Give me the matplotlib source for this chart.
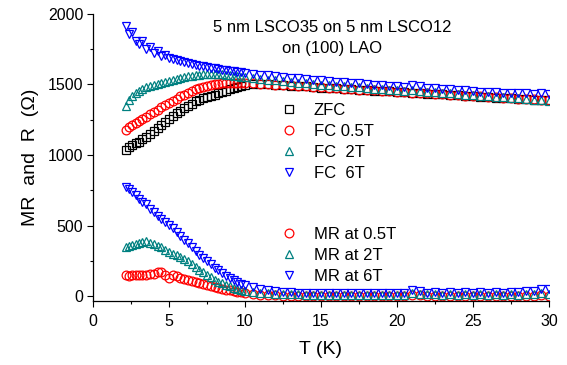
import numpy as np
import matplotlib
matplotlib.use("Agg")
import matplotlib.pyplot as plt
from matplotlib.ticker import MultipleLocator

plt.rcParams.update({
    "font.family": ["Liberation Sans", "DejaVu Sans"],
    "font.size": 11.5,
    "axes.linewidth": 0.9,
    "xtick.direction": "out",
    "ytick.direction": "out",
    "xtick.major.size": 4,
    "ytick.major.size": 4,
    "xtick.minor.size": 2.3,
    "ytick.minor.size": 2.3,
    "xtick.major.width": 0.8,
    "ytick.major.width": 0.8,
    "xtick.minor.width": 0.8,
    "ytick.minor.width": 0.8,
})

# temperature grid (K)
T = [2.2, 2.4, 2.6, 2.8, 3.0, 3.25, 3.5, 3.75, 4.0, 4.25, 4.5, 4.75, 5.0,
     5.25, 5.5, 5.75, 6.0, 6.25, 6.5, 6.75, 7.0, 7.25, 7.5, 7.75, 8.0,
     8.25, 8.5, 8.75, 9.0, 9.25, 9.5, 9.75, 10.0,
     10.5, 11.0, 11.5, 12.0, 12.5, 13.0, 13.5, 14.0, 14.5, 15.0, 15.5,
     16.0, 16.5, 17.0, 17.5, 18.0, 18.5, 19.0, 19.5, 20.0, 20.5, 21.0,
     21.5, 22.0, 22.5, 23.0, 23.5, 24.0, 24.5, 25.0, 25.5, 26.0, 26.5,
     27.0, 27.5, 28.0, 28.5, 29.0, 29.5, 30.0]

# R(T), ohm
R_zfc = [1035, 1055, 1070, 1082, 1095, 1110, 1128, 1148, 1168, 1188, 1210,
         1232, 1255, 1275, 1295, 1315, 1335, 1350, 1365, 1380, 1393, 1403,
         1412, 1420, 1428, 1436, 1445, 1455, 1465, 1475, 1483, 1490, 1495,
         1500, 1501, 1500, 1498, 1495, 1492, 1489, 1486, 1483, 1478, 1475,
         1472, 1469, 1466, 1463, 1460, 1457, 1454, 1451, 1447, 1444, 1441,
         1438, 1435, 1432, 1429, 1426, 1422, 1419, 1416, 1413, 1410, 1407,
         1404, 1401, 1398, 1396, 1393, 1391, 1388]
R_fc05 = [1180, 1198, 1212, 1225, 1238, 1255, 1272, 1290, 1305, 1322, 1338,
          1355, 1370, 1385, 1400, 1415, 1428, 1440, 1452, 1465, 1475, 1484,
          1491, 1497, 1502, 1506, 1509, 1511, 1512, 1512, 1512, 1511, 1510,
          1508, 1505, 1502, 1499, 1496, 1493, 1490, 1486, 1483, 1480, 1477,
          1473, 1470, 1467, 1464, 1461, 1458, 1455, 1452, 1448, 1445, 1442,
          1439, 1436, 1433, 1430, 1427, 1424, 1421, 1418, 1415, 1412, 1409,
          1406, 1403, 1400, 1398, 1395, 1393, 1390]
R_fc2 = [1345, 1390, 1420, 1440, 1455, 1468, 1480, 1490, 1498, 1505, 1512,
         1520, 1527, 1534, 1540, 1546, 1552, 1557, 1562, 1566, 1569, 1572,
         1574, 1575, 1575, 1574, 1572, 1569, 1566, 1562, 1558, 1554, 1550,
         1544, 1538, 1533, 1528, 1523, 1518, 1513, 1508, 1503, 1499, 1495,
         1491, 1487, 1483, 1479, 1475, 1471, 1467, 1463, 1459, 1456, 1462,
         1455, 1447, 1443, 1440, 1436, 1432, 1428, 1424, 1420, 1417, 1413,
         1409, 1405, 1401, 1397, 1393, 1389, 1385]
R_fc6 = [1915, 1860, 1870, 1810, 1790, 1805, 1750, 1765, 1725, 1740, 1705,
         1712, 1690, 1680, 1670, 1664, 1657, 1651, 1645, 1640, 1634, 1629,
         1624, 1619, 1614, 1610, 1605, 1601, 1597, 1593, 1589, 1585, 1582,
         1576, 1570, 1565, 1559, 1554, 1549, 1544, 1539, 1534, 1529, 1525,
         1520, 1516, 1511, 1507, 1503, 1499, 1495, 1491, 1487, 1484, 1495,
         1490, 1478, 1474, 1470, 1466, 1462, 1458, 1452, 1450, 1446, 1448,
         1442, 1440, 1437, 1440, 1434, 1438, 1432]

# magnetoresistance, ohm
MR_05 = [150, 145, 148, 150, 152, 152, 153, 155, 158, 168, 170, 150, 130,
         148, 145, 130, 122, 115, 110, 103, 95, 88, 80, 72, 65, 58, 52, 47,
         42, 37, 32, 27, 22,
         16, 11, 8, 5, 4, 3, 2, 2, 2, 1, 1, 1, 1, 1, 1, 1, 1, 1, 1, 1, 2, 8,
         5, 2, 4, 1, 3, 1, 3, 1, 3, 1, 3, 2, 3, 2, 4, 3, 5, 4]
MR_2 = [345, 352, 360, 372, 380, 385, 388, 380, 368, 355, 345, 330, 315,
        302, 290, 276, 262, 247, 230, 208, 187, 168, 150, 133, 118, 104, 92,
        80, 70, 61, 53, 46, 40,
        32, 26, 21, 18, 15, 13, 12, 11, 10, 10, 9, 9, 8, 8, 8, 8, 8, 8, 8, 9,
        10, 25, 18, 12, 15, 10, 14, 10, 13, 9, 12, 10, 13, 10, 12, 11, 14, 16,
        20, 18]
MR_6 = [772, 760, 735, 715, 690, 665, 655, 615, 595, 570, 548, 528, 505,
        480, 455, 428, 400, 375, 350, 322, 295, 270, 248, 225, 203, 183, 165,
        146, 130, 115, 100, 88, 76,
        62, 50, 42, 35, 30, 28, 26, 25, 24, 23, 22, 22, 21, 21, 20, 20, 20,
        20, 20, 21, 22, 42, 35, 25, 28, 20, 30, 22, 28, 20, 30, 22, 30, 24,
        32, 28, 34, 36, 48, 50]

R_labels = ["ZFC", "FC 0.5T", "FC  2T", "FC  6T"]
MR_labels = ["MR at 0.5T", "MR at 2T", "MR at 6T"]

c_black = "#000000"
c_red = "#FF0000"
c_teal = "#008080"
c_blue = "#0000FF"

fig = plt.figure(figsize=(5.67, 3.65), dpi=100)
ax = fig.add_axes([0.164, 0.175, 0.804, 0.787])

mk = dict(linestyle="none", markersize=6.3, markerfacecolor="none",
          markeredgewidth=0.9)

h_zfc, = ax.plot(T, R_zfc, "s", color=c_black, label=R_labels[0], **mk)
h_05, = ax.plot(T, R_fc05, "o", color=c_red, label=R_labels[1], **mk)
h_2, = ax.plot(T, R_fc2, "^", color=c_teal, label=R_labels[2], **mk)
h_6, = ax.plot(T, R_fc6, "v", color=c_blue, label=R_labels[3], **mk)

m_05, = ax.plot(T, MR_05, "o", color=c_red, label=MR_labels[0], **mk)
m_2, = ax.plot(T, MR_2, "^", color=c_teal, label=MR_labels[1], **mk)
m_6, = ax.plot(T, MR_6, "v", color=c_blue, label=MR_labels[2], **mk)

ax.set_xlim(0, 30)
ax.set_ylim(-35, 2000)
ax.xaxis.set_major_locator(MultipleLocator(5))
ax.xaxis.set_minor_locator(MultipleLocator(2.5))
ax.yaxis.set_major_locator(MultipleLocator(500))
ax.yaxis.set_minor_locator(MultipleLocator(250))
ax.spines["top"].set_visible(False)
ax.spines["right"].set_visible(False)
ax.tick_params(axis="x", which="major", labelsize=11.5, pad=5)
ax.tick_params(axis="y", which="major", labelsize=11.5, pad=3)

ax.set_xlabel("T (K)", fontsize=14, labelpad=9)
ax.set_ylabel("MR  and  R  (\u03a9)", fontsize=14, labelpad=6)

ax.text(0.524, 0.951, "5 nm LSCO35 on 5 nm LSCO12", transform=ax.transAxes,
        ha="center", va="center", fontsize=12)
ax.text(0.524, 0.878, "on (100) LAO", transform=ax.transAxes,
        ha="center", va="center", fontsize=12)

leg_kw = dict(frameon=False, fontsize=12, handlelength=1.0,
              handletextpad=1.0, labelspacing=0.36, borderpad=0,
              borderaxespad=0, loc="upper left")
leg1 = ax.legend(handles=[h_zfc, h_05, h_2, h_6],
                 bbox_to_anchor=(0.411, 0.69), **leg_kw)
ax.add_artist(leg1)
ax.legend(handles=[m_05, m_2, m_6], bbox_to_anchor=(0.411, 0.258), **leg_kw)

fig.savefig("out.png", dpi=100, facecolor="white")
plt.close()
